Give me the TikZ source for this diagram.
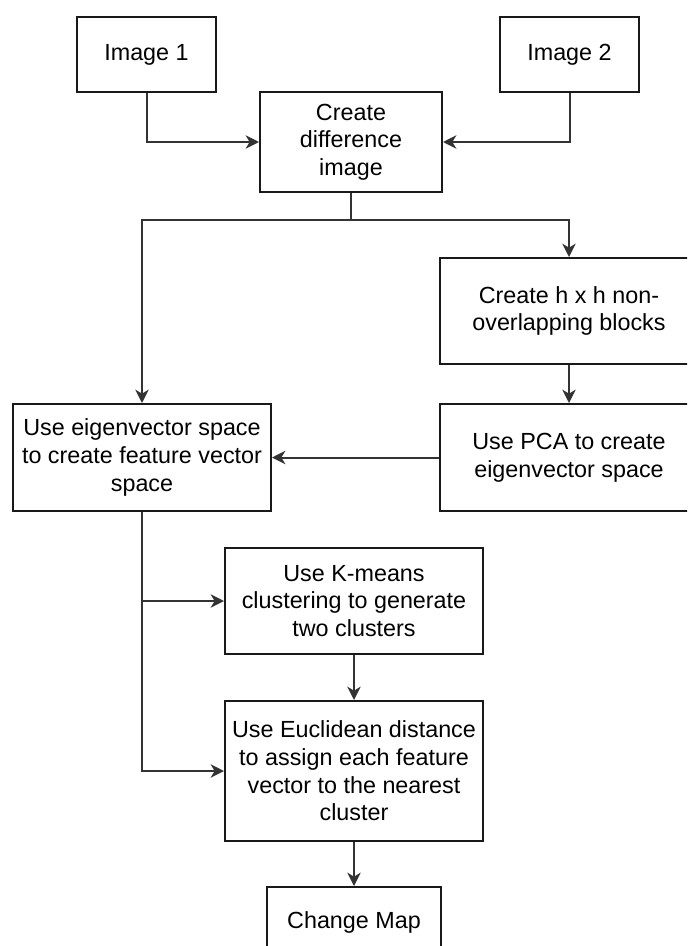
\documentclass[tikz,border=0pt]{standalone}
\usepackage{fontspec}
\setmainfont{Liberation Sans}
\usetikzlibrary{arrows.meta}
\begin{document}
\begin{tikzpicture}[x=0.75pt, y=-0.75pt,
  box/.style={draw=black!90, line width=1.5pt, rectangle, align=center, inner sep=0pt,
    font=\fontsize{17.5}{20.7}\selectfont},
  flow/.style={draw=black!80, line width=1.5pt,
    -{Stealth[length=10pt, width=10pt, inset=3pt]}},
  link/.style={draw=black!80, line width=1.5pt}]
\useasboundingbox (0,0) rectangle (687,946);
\clip (0,0) rectangle (687,946);

% input images
\node[box, minimum width=104.25pt, minimum height=56.25pt] (img1) at (146.5,54.5) {Image 1};
\node[box, minimum width=104.25pt, minimum height=56.25pt] (img2) at (569.5,54.5) {Image 2};

% processing steps
\node[box, minimum width=136.5pt, minimum height=75pt] (diff) at (351,142) {Create\\difference\\image};
\node[box, minimum width=193.5pt, minimum height=79.5pt] (blocks) at (569,311) {Create h x h non-\\overlapping blocks};
\node[box, minimum width=193.5pt, minimum height=80.25pt] (pca) at (569,457.5) {Use PCA to create\\eigenvector space};
\node[box, minimum width=193.5pt, minimum height=80.25pt] (eig) at (142,457.5) {Use eigenvector space\\to create feature vector\\space};
\node[box, minimum width=193.5pt, minimum height=79.5pt] (kmeans) at (354,601) {Use K-means\\clustering to generate\\two clusters};
\node[box, minimum width=193.5pt, minimum height=105pt] (eucl) at (354,771) {Use Euclidean distance\\to assign each feature\\vector to the nearest\\cluster};
\node[box, minimum width=130.5pt, minimum height=52.5pt] (change) at (354,922) {Change Map};

% connectors
\draw[flow] (img1.south) |- (diff.west);
\draw[flow] (img2.south) |- (diff.east);
\coordinate (split) at (351,220);
\draw[link] (diff.south) -- (split);
\draw[flow] (split) -| (eig.north);
\draw[flow] (split) -| (blocks.north);
\draw[flow] (blocks.south) -- (pca.north);
\draw[flow] (pca.west) -- (eig.east);
\draw[flow] (eig.south) |- (kmeans.west);
\draw[flow] (eig.south) |- (eucl.west);
\draw[flow] (kmeans.south) -- (eucl.north);
\draw[flow] (eucl.south) -- (change.north);
\end{tikzpicture}
\end{document}
